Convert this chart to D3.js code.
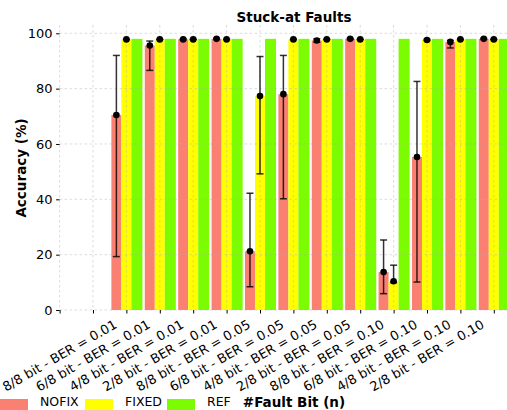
<!DOCTYPE html>
<html>
<head>
<meta charset="utf-8">
<script src="https://cdn.jsdelivr.net/npm/d3@7"></script>
<style>
  body { margin: 0; background: #fff; }
  svg { display: block; font-family: "DejaVu Sans", sans-serif; }
</style>
</head>
<body>
<svg id="chart" width="507" height="410"></svg>
<script>
// Fault configurations (x tick labels)
const categories = [
  "8/8 bit - BER = 0.01", "6/8 bit - BER = 0.01", "4/8 bit - BER = 0.01", "2/8 bit - BER = 0.01",
  "8/8 bit - BER = 0.05", "6/8 bit - BER = 0.05", "4/8 bit - BER = 0.05", "2/8 bit - BER = 0.05",
  "8/8 bit - BER = 0.10", "6/8 bit - BER = 0.10", "4/8 bit - BER = 0.10", "2/8 bit - BER = 0.10"
];
const seriesNames = ["NOFIX", "FIXED", "REF"];

// Mean accuracy (%) and min/max range per configuration
const nofix     = [70.5, 95.6, 97.8, 98.0, 21.2, 78.0, 97.4, 98.0, 13.7, 55.3, 96.9, 98.0];
const nofixLow  = [19.3, 86.6, 97.6, 97.8,  8.4, 40.2, 96.8, 97.8,  5.9, 10.1, 94.7, 97.8];
const nofixHigh = [92.0, 97.2, 98.0, 98.2, 42.2, 92.0, 98.0, 98.2, 25.3, 82.6, 97.4, 98.2];

const fixed     = [97.8, 97.8, 97.8, 97.8, 77.3, 97.8, 97.8, 97.8, 10.4, 97.6, 97.8, 97.8];
const fixedLow  = [97.7, 97.7, 97.7, 97.7, 49.2, 97.7, 97.7, 97.7,  9.9, 97.4, 97.7, 97.7];
const fixedHigh = [97.9, 97.9, 97.9, 97.9, 91.6, 97.9, 97.9, 97.9, 16.2, 97.8, 97.9, 97.9];

const ref       = [98.0, 98.0, 98.0, 98.0, 98.0, 98.0, 98.0, 98.0, 98.0, 98.0, 98.0, 98.0];

const yTicks = [0, 20, 40, 60, 80, 100];

const colors = { NOFIX: "#FA8072", FIXED: "#FFFF00", REF: "#7CFC00" };

const svg = d3.select("#chart");

// slot index -> pixel; y in percent
const x = d3.scaleLinear().domain([0, 1]).range([59.6, 93.0]);
const y = d3.scaleLinear().domain([0, 100]).range([310, 33.3]);
const plotTop = 25, plotBottom = y(0), plotLeft = x(0), plotRight = 507;
const slots = d3.range(14);

// bar groups are drawn two slots to the right of their tick labels
const barSlot = i => i + 2;
const barSpans = { NOFIX: [-0.45, -0.15], FIXED: [-0.15, 0.15], REF: [0.15, 0.48] };

const rows = categories.map((c, i) => ({
  i,
  NOFIX: { v: nofix[i], lo: nofixLow[i], hi: nofixHigh[i] },
  FIXED: { v: fixed[i], lo: fixedLow[i], hi: fixedHigh[i] },
  REF:   { v: ref[i] }
}));

// bars
seriesNames.forEach(name => {
  const [a, b] = barSpans[name];
  svg.append("g").selectAll("rect").data(rows).join("rect")
    .attr("x", d => x(barSlot(d.i) + a))
    .attr("width", d => x(barSlot(d.i) + b) - x(barSlot(d.i) + a))
    .attr("y", d => y(d[name].v))
    .attr("height", d => y(0) - y(d[name].v))
    .attr("fill", colors[name]);
});

// grid
const grid = svg.append("g")
  .attr("stroke", "#b0b0b0").attr("stroke-width", 0.8)
  .attr("stroke-dasharray", "2.5,2.5").attr("opacity", 0.55);
grid.selectAll("line.h").data(yTicks).join("line").attr("class", "h")
  .attr("x1", plotLeft).attr("x2", plotRight)
  .attr("y1", d => y(d)).attr("y2", d => y(d));
grid.selectAll("line.v").data(slots).join("line").attr("class", "v")
  .attr("x1", d => x(d)).attr("x2", d => x(d))
  .attr("y1", plotTop).attr("y2", plotBottom);

// error bars with mean markers
["NOFIX", "FIXED"].forEach(name => {
  const [a, b] = barSpans[name];
  const cx = d => x(barSlot(d.i) + (a + b) / 2);
  const g = svg.append("g");
  const eb = g.append("g").attr("stroke", "#000").attr("stroke-opacity", 0.8).attr("stroke-width", 1.5);
  eb.selectAll("line.s").data(rows).join("line").attr("class", "s")
    .attr("x1", cx).attr("x2", cx)
    .attr("y1", d => y(d[name].lo)).attr("y2", d => y(d[name].hi));
  ["lo", "hi"].forEach(k => {
    eb.selectAll("line.c" + k).data(rows).join("line").attr("class", "c" + k)
      .attr("x1", d => cx(d) - 3.5).attr("x2", d => cx(d) + 3.5)
      .attr("y1", d => y(d[name][k])).attr("y2", d => y(d[name][k]));
  });
  g.selectAll("circle").data(rows).join("circle")
    .attr("cx", cx).attr("cy", d => y(d[name].v)).attr("r", 3.3).attr("fill", "#000");
});

// y axis
const yAxis = svg.append("g").attr("transform", `translate(${plotLeft},0)`)
  .call(d3.axisLeft(y).tickValues(yTicks).tickSize(3.5).tickPadding(3.5));
yAxis.select(".domain").remove();
yAxis.selectAll("text").attr("font-size", 13).attr("font-family", "DejaVu Sans").attr("fill", "#000");
yAxis.selectAll("line").attr("stroke", "#000");

// x axis tick marks
const xAxis = svg.append("g").attr("transform", `translate(0,${plotBottom})`)
  .call(d3.axisBottom(x).tickValues(slots).tickSize(3.5).tickFormat(""));
xAxis.select(".domain").remove();
xAxis.selectAll("line").attr("stroke", "#000");

// rotated category labels
svg.append("g").selectAll("text").data(categories).join("text")
  .attr("transform", (d, i) => `translate(${x(i)},355.5) rotate(-30)`)
  .attr("text-anchor", "middle").attr("dy", "0.35em")
  .attr("font-size", 13).attr("fill", "#000")
  .text(d => d);

// title and axis titles
svg.append("text").attr("x", 294).attr("y", 22).attr("text-anchor", "middle")
  .attr("font-size", 13.5).attr("font-weight", "bold").text("Stuck-at Faults");
svg.append("text").attr("transform", "translate(26,168) rotate(-90)").attr("text-anchor", "middle")
  .attr("font-size", 13.5).attr("font-weight", "bold").text("Accuracy (%)");
svg.append("text").attr("x", 294).attr("y", 406.5).attr("text-anchor", "middle")
  .attr("font-size", 13.5).attr("font-weight", "bold").text("#Fault Bit (n)");

// legend along the bottom edge
const legendX = { NOFIX: 0, FIXED: 85, REF: 167 };
const lg = svg.append("g").selectAll("g").data(seriesNames).join("g")
  .attr("transform", d => `translate(${legendX[d]},399)`);
lg.append("rect").attr("width", 28).attr("height", 11).attr("fill", d => colors[d]);
lg.append("text").attr("x", 40).attr("y", 7).attr("font-size", 12.5).attr("fill", "#000").text(d => d);
</script>
</body>
</html>
